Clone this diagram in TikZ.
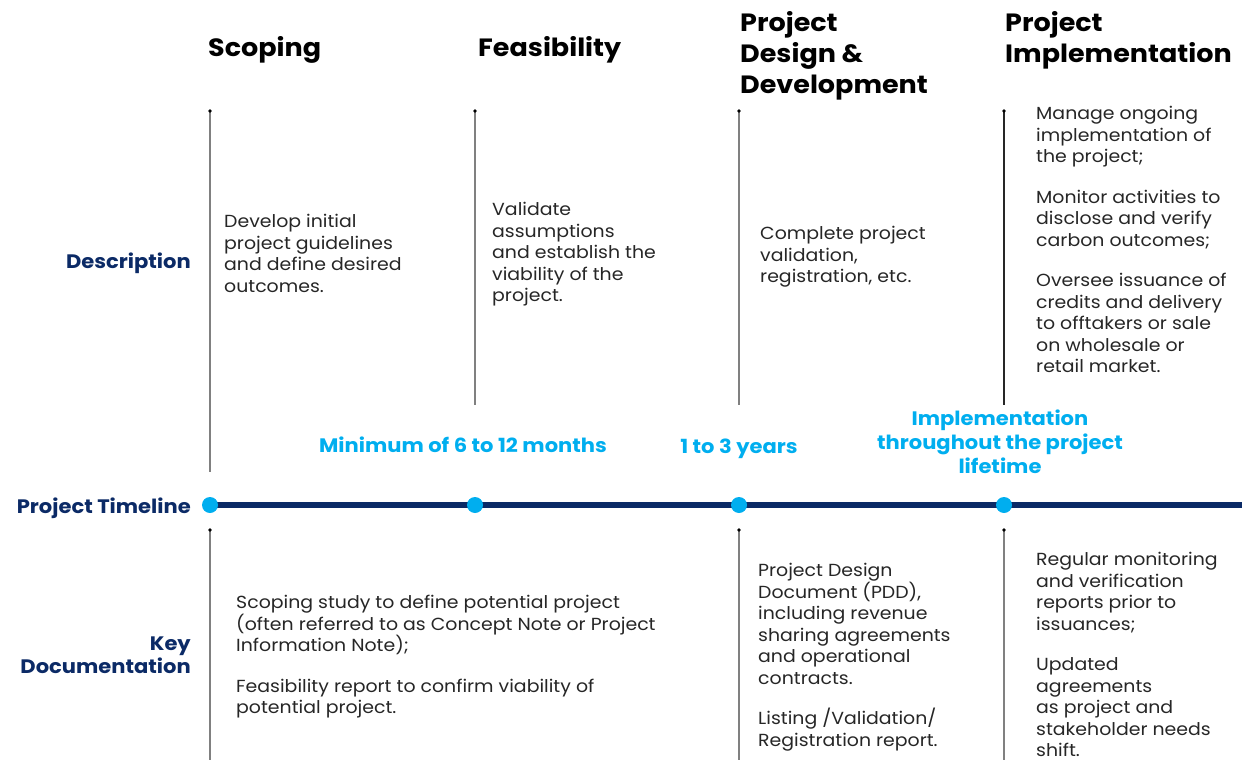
\documentclass[tikz,border=0pt]{standalone}
\usepackage{fontspec}
\setmainfont{Poppins}[FakeStretch=1.08]
\usepackage{tikz}
\usetikzlibrary{positioning,calc}

\definecolor{navy}{HTML}{0B2A66}
\definecolor{brightBlue}{HTML}{00AEEF}
\definecolor{bodyGray}{HTML}{262626}
\definecolor{ruleGray}{HTML}{808080}

\begin{document}
\begin{tikzpicture}[x=1pt,y=-1pt]

    \tikzstyle{header}=[anchor=north west, inner sep=0, align=left, font=\fontsize{25}{31}\selectfont\bfseries, text=black]
    \tikzstyle{rowLabel}=[anchor=east, inner sep=0, align=right, font=\fontsize{19.5}{23}\selectfont\bfseries, text=navy]
    \tikzstyle{body}=[anchor=north west, inner sep=0, align=left, font=\fontsize{17.5}{21.5}\selectfont, text=bodyGray]
    \tikzstyle{duration}=[anchor=north, inner sep=0, align=center, font=\fontsize{19.5}{24}\selectfont\bfseries, text=brightBlue]
    \tikzstyle{stageDot}=[circle, fill=brightBlue, minimum size=16pt, inner sep=0]
    \tikzstyle{timeline}=[navy, line width=6pt]
    \tikzstyle{stem}=[ruleGray, line width=1.2pt]
    \tikzstyle{stemDark}=[black!85, line width=1.2pt]

    \useasboundingbox (0,0) rectangle (1242,760);

    % Stage positions along the timeline
    \def \xS {210}
    \def \xF {475}
    \def \xD {739}
    \def \xI {1004}
    \def \yT {505}
    \def \pgap {19pt}

    % Headers
    \node at (208,36)  [header] (hScoping)  {Scoping};
    \node at (478,36)  [header] (hFeas)     {Feasibility};
    \node at (740,11)  [header] (hDesign)   {Project\\Design \&\\Development};
    \node at (1005,11) [header] (hImpl)     {Project\\Implementation};

    % Row labels
    \node at (191,263) [rowLabel] (lDesc)    {Description};
    \node at (191,508) [rowLabel] (lTime)    {Project Timeline};
    \node at (191,655) [rowLabel] (lDocs)    {Key\\Documentation};

    % Vertical stems above the timeline
    \coordinate (sTopS) at (\xS,111);  \coordinate (sBotS) at (\xS,472);
    \coordinate (sTopF) at (\xF,111);  \coordinate (sBotF) at (\xF,405);
    \coordinate (sTopD) at (\xD,111);  \coordinate (sBotD) at (\xD,405);
    \coordinate (sTopI) at (\xI,111);  \coordinate (sBotI) at (\xI,405);
    \draw[stem] (sTopS) -- (sBotS);
    \draw[stem] (sTopF) -- (sBotF);
    \draw[stem] (sTopD) -- (sBotD);
    \draw[stemDark] (sTopI) -- (sBotI);
    \fill (sTopS) circle (1.8);
    \fill (sTopF) circle (1.8);
    \fill (sTopD) circle (1.8);
    \fill (sTopI) circle (1.8);

    % Vertical stems below the timeline
    \coordinate (kTopS) at (\xS,530);  \coordinate (kBotS) at (\xS,760);
    \coordinate (kTopD) at (\xD,530);  \coordinate (kBotD) at (\xD,760);
    \coordinate (kTopI) at (\xI,530);  \coordinate (kBotI) at (\xI,760);
    \draw[stem] (kTopS) -- (kBotS);
    \draw[stem] (kTopD) -- (kBotD);
    \draw[stem] (kTopI) -- (kBotI);
    \fill (kTopS) circle (1.8);
    \fill (kTopD) circle (1.8);
    \fill (kTopI) circle (1.8);

    % Timeline
    \coordinate (tStart) at (\xS,\yT);
    \coordinate (tEnd) at (1242,\yT);
    \draw[timeline] (tStart) -- (tEnd);
    \node at (\xS,\yT) [stageDot] (dS) {};
    \node at (\xF,\yT) [stageDot] (dF) {};
    \node at (\xD,\yT) [stageDot] (dD) {};
    \node at (\xI,\yT) [stageDot] (dI) {};

    % Durations
    \node at (463,437)  [duration] (durA) {Minimum of 6 to 12 months};
    \node at (739,439)  [duration] (durB) {1 to 3 years};
    \node at (1000,410) [duration] (durC) {Implementation\\throughout the project\\lifetime};

    % Descriptions
    \node at (224,214)  [body] (descS) {Develop initial\\project guidelines\\and define desired\\outcomes.};
    \node at (492,202)  [body] (descF) {Validate\\assumptions\\and establish the\\viability of the\\project.};
    \node at (760,226)  [body] (descD) {Complete project\\validation,\\registration, etc.};
    \node at (1036,106) [body] (descI) {Manage ongoing\\implementation of\\the project;\\[\pgap]Monitor activities to\\disclose and verify\\carbon outcomes;\\[\pgap]Oversee issuance of\\credits and delivery\\to offtakers or sale\\on wholesale or\\retail market.};

    % Key documentation
    \node at (236,595)  [body] (docS) {Scoping study to define potential project\\(often referred to as Concept Note or Project\\Information Note);\\[\pgap]Feasibility report to confirm viability of\\potential project.};
    \node at (758,563)  [body] (docD) {Project Design\\Document (PDD),\\including revenue\\sharing agreements\\and operational\\contracts.\\[\pgap]Listing /Validation/\\Registration report.};
    \node at (1036,552) [body] (docI) {Regular monitoring\\and verification\\reports prior to\\issuances;\\[\pgap]Updated\\agreements\\as project and\\stakeholder needs\\shift.};

\end{tikzpicture}
\end{document}
